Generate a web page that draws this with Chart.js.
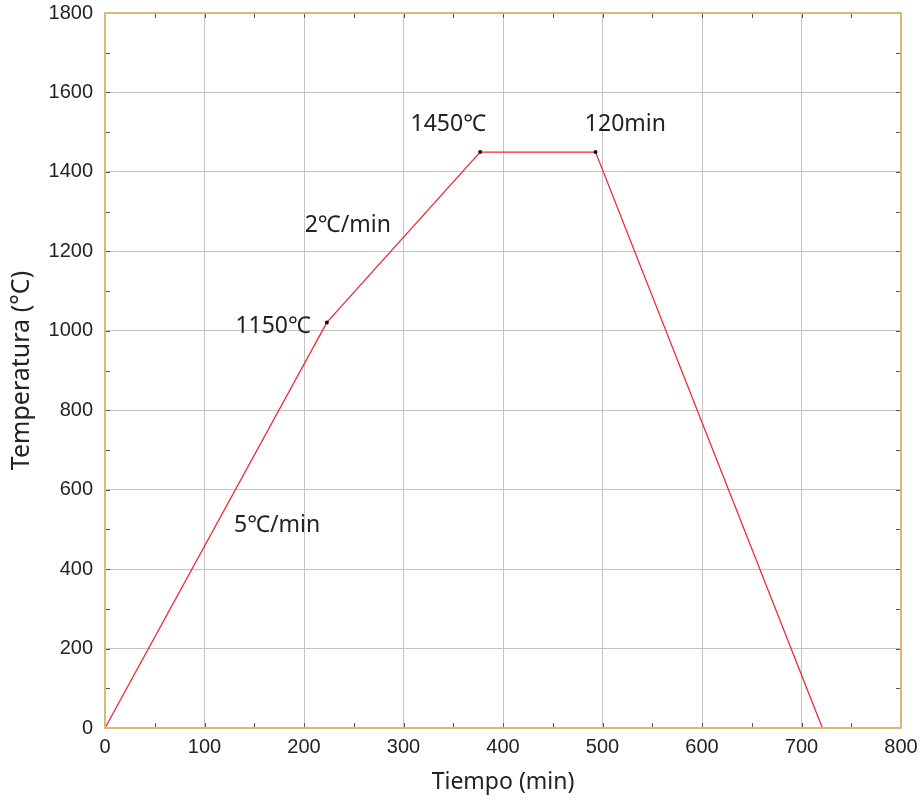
<!DOCTYPE html>
<html>
<head>
<meta charset="utf-8">
<script src="https://cdn.jsdelivr.net/npm/chart.js@4.4.1/dist/chart.umd.min.js"></script>
<style>
  body { margin: 0; background: #fff; }
  #wrap { width: 922px; height: 800px; position: relative; }
</style>
</head>
<body>
<div id="wrap"><canvas id="chart"></canvas></div>
<script>
// Firing schedule
const tiempo = [0, 223, 377, 493, 721];
const temperatura = [0, 1021, 1450, 1450, 0];
const dotRadius = [0, 2, 2, 2, 0];

// Annotation texts and where they sit (data units)
const labelTexts = ["1450\u2103", "120min", "2\u2103/min", "1150\u2103", "5\u2103/min"];
const labelX = [345, 523, 244, 169, 173];
const labelY = [1519, 1519, 1265, 1011, 511];

const xTicks = [0, 100, 200, 300, 400, 500, 600, 700, 800];
const yTicks = [0, 200, 400, 600, 800, 1000, 1200, 1400, 1600, 1800];

const frameColor = "#dbb873";
const tickFont = { family: "'Liberation Sans', Arial, sans-serif", size: 20 };
const titleFont = { family: "'Noto Sans', sans-serif", size: 23 };

// Frame, inward ticks and the text labels
const framePlugin = {
  id: "frame",
  afterDatasetsDraw(chart) {
    const { ctx, chartArea: a, scales: { x, y } } = chart;
    ctx.save();

    // ticks pointing into the plot on all four sides
    ctx.strokeStyle = "#555";
    ctx.lineWidth = 1;
    ctx.beginPath();
    for (let v = 50; v < 800; v += 50) {
      const px = Math.round(x.getPixelForValue(v)) + 0.5;
      ctx.moveTo(px, a.bottom); ctx.lineTo(px, a.bottom - 5);
      ctx.moveTo(px, a.top); ctx.lineTo(px, a.top + 5);
    }
    for (let v = 100; v < 1800; v += 100) {
      const py = Math.round(y.getPixelForValue(v)) + 0.5;
      ctx.moveTo(a.left, py); ctx.lineTo(a.left + 5, py);
      ctx.moveTo(a.right, py); ctx.lineTo(a.right - 5, py);
    }
    ctx.stroke();

    ctx.strokeStyle = frameColor;
    ctx.lineWidth = 2;
    ctx.strokeRect(a.left, a.top, a.right - a.left, a.bottom - a.top);

    ctx.fillStyle = "#222";
    ctx.font = "23px 'Noto Sans', sans-serif";
    ctx.textAlign = "center";
    ctx.textBaseline = "middle";
    labelTexts.forEach((t, i) => {
      ctx.fillText(t, x.getPixelForValue(labelX[i]), y.getPixelForValue(labelY[i]));
    });
    ctx.restore();
  }
};

new Chart(document.getElementById("chart"), {
  type: "scatter",
  data: {
    datasets: [{
      data: tiempo.map((t, i) => ({ x: t, y: temperatura[i] })),
      showLine: true,
      borderColor: "#ee2a38",
      borderWidth: 1.3,
      pointRadius: dotRadius,
      pointBackgroundColor: "#111",
      pointBorderWidth: 0,
      tension: 0
    }]
  },
  options: {
    responsive: true,
    maintainAspectRatio: false,
    animation: false,
    devicePixelRatio: 1,
    layout: { padding: { top: 13, right: 21, left: 0, bottom: 0 } },
    plugins: { legend: { display: false }, tooltip: { enabled: false } },
    scales: {
      x: {
        type: "linear",
        min: 0, max: 800,
        afterBuildTicks: (s) => { s.ticks = xTicks.map(v => ({ value: v })); },
        afterFit: (s) => { s.height = 72; s.paddingLeft = 0; s.paddingRight = 0; },
        grid: { color: "#c4c4c4", lineWidth: 1, drawTicks: false },
        border: { display: false },
        ticks: { font: tickFont, color: "#222", padding: 7, maxRotation: 0, callback: (v) => String(v) },
        title: { display: true, text: "Tiempo (min)", font: titleFont, color: "#222", padding: { top: 0, bottom: 4 } }
      },
      y: {
        type: "linear",
        min: 0, max: 1800,
        afterBuildTicks: (s) => { s.ticks = yTicks.map(v => ({ value: v })); },
        afterFit: (s) => { s.width = 105; s.paddingTop = 0; s.paddingBottom = 0; },
        grid: { color: "#c4c4c4", lineWidth: 1, drawTicks: false },
        border: { display: false },
        ticks: { font: tickFont, color: "#222", padding: 12, callback: (v) => String(v) },
        title: { display: true, text: "Temperatura (°C)", font: { family: "'Noto Sans', sans-serif", size: 25 }, color: "#222", padding: { top: 7, bottom: 0 } }
      }
    }
  },
  plugins: [framePlugin]
});
</script>
</body>
</html>
